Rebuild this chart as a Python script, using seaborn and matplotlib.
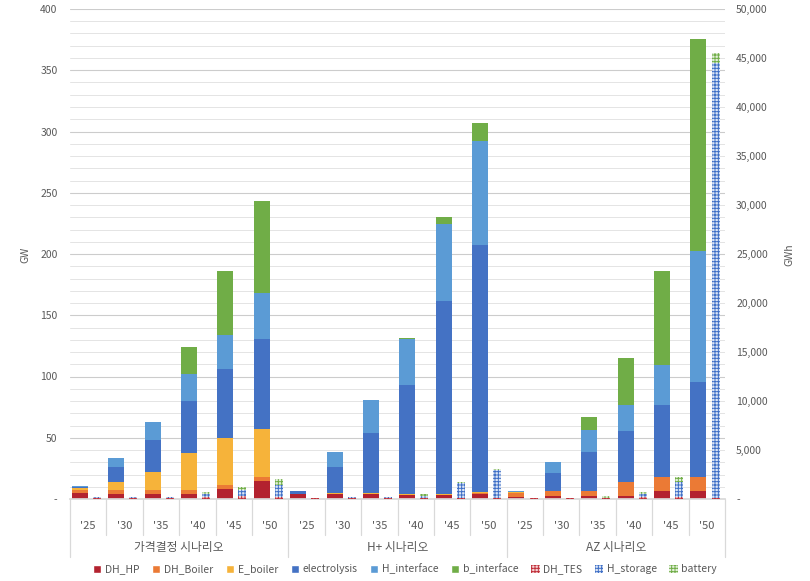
import matplotlib
matplotlib.use("Agg")
import matplotlib.pyplot as plt
from matplotlib.patches import Patch
from matplotlib.ticker import FuncFormatter, MultipleLocator
import numpy as np
import pandas as pd
import seaborn as sns

scenarios = ['가격결정 시나리오', 'H+ 시나리오', 'AZ 시나리오']
years = ["'25", "'30", "'35", "'40", "'45", "'50"]

# GW (left axis), 18 bars: 3 scenarios x 6 years
dh_hp = [4.5, 4.3, 4.3, 4.3, 8.2, 15.0,
         3.8, 4.0, 4.0, 3.3, 3.3, 4.3,
         1.4, 2.7, 2.7, 2.7, 6.8, 6.8]
dh_boiler = [2.8, 3.0, 3.0, 3.0, 3.2, 3.2,
             0.3, 0.3, 0.3, 0.3, 0.3, 0.8,
             3.7, 3.8, 3.8, 11.4, 11.2, 11.2]
e_boiler = [2.0, 6.6, 14.5, 30.5, 38.6, 38.9,
            0.2, 0.3, 0.3, 0.5, 0.5, 0.4,
            0.3, 0.0, 0.0, 0.0, 0.0, 0.0]
electrolysis = [0.5, 12.5, 26.4, 42.0, 56.0, 73.4,
                2.0, 21.8, 49.3, 89.0, 157.5, 201.6,
                0.3, 15.0, 32.1, 41.4, 58.7, 77.5]
h_interface = [0.8, 6.8, 14.7, 22.0, 28.0, 37.6,
               0.5, 12.0, 27.0, 37.7, 63.0, 85.0,
               0.5, 8.5, 17.7, 21.2, 32.7, 107.0]
b_interface = [0.0, 0.0, 0.0, 22.0, 52.0, 75.0,
               0.0, 0.0, 0.0, 0.6, 5.7, 15.0,
               0.0, 0.0, 10.7, 38.5, 76.8, 173.0]

# GWh (right axis)
dh_tes = [150, 100, 100, 240, 300, 240,
          100, 100, 60, 60, 130, 150,
          100, 60, 60, 170, 170, 150]
h_storage = [30, 100, 150, 270, 610, 1190,
             20, 80, 180, 280, 1470, 2850,
             20, 60, 80, 340, 1600, 44300]
battery = [0, 0, 0, 240, 340, 580,
           0, 0, 0, 140, 130, 30,
           0, 0, 200, 240, 480, 1100]

gw_series = [('DH_HP', dh_hp, '#B3222F'),
             ('DH_Boiler', dh_boiler, '#EB7A35'),
             ('E_boiler', e_boiler, '#F6B33A'),
             ('electrolysis', electrolysis, '#4472C4'),
             ('H_interface', h_interface, '#5B9BD5'),
             ('b_interface', b_interface, '#70AD47')]
gwh_series = [('DH_TES', dh_tes, '#C0303A', '#F6D3D5'),
              ('H_storage', h_storage, '#3F6FC6', '#DCE6F6'),
              ('battery', battery, '#70AD47', '#E3F0DA')]

sns.set_theme(style='white')
plt.rcParams['font.family'] = ['Noto Sans CJK KR', 'DejaVu Sans']
plt.rcParams['hatch.linewidth'] = 0.7
grey = '#595959'
line_grey = '#D9D9D9'
hatch = '+++++'

fig = plt.figure(figsize=(8.1, 5.81), dpi=100)
ax = fig.add_axes([70 / 810, 82 / 581, 655 / 810, 490 / 581])
ax2 = ax.twinx()

n = len(scenarios) * len(years)
idx = np.arange(n)
x_gw = idx - 0.23
x_gwh = idx + 0.24

# stacked bars: draw cumulative totals from the top layer down
gw_cum = np.cumsum([s[1] for s in gw_series], axis=0)
for i in reversed(range(len(gw_series))):
    df = pd.DataFrame({'x': x_gw, 'y': gw_cum[i]})
    sns.barplot(data=df, x='x', y='y', ax=ax, native_scale=True,
                width=0.44, color=gw_series[i][2], saturation=1,
                errorbar=None, linewidth=0)

gwh_cum = np.cumsum([s[1] for s in gwh_series], axis=0)
for i in reversed(range(len(gwh_series))):
    name, vals, hc, fc = gwh_series[i]
    df = pd.DataFrame({'x': x_gwh, 'y': gwh_cum[i]})
    sns.barplot(data=df, x='x', y='y', ax=ax2, native_scale=True,
                width=0.22, color=fc, saturation=1, errorbar=None,
                edgecolor=hc, hatch=hatch, linewidth=0)

# axes
ax.set_ylim(0, 400)
ax2.set_ylim(0, 50000)
ax.set_xlim(-0.5, n - 0.5)
ax.yaxis.set_major_locator(MultipleLocator(50))
ax.yaxis.set_minor_locator(MultipleLocator(10))
ax2.yaxis.set_major_locator(MultipleLocator(5000))
ax.yaxis.set_major_formatter(FuncFormatter(lambda v, p: '-' if v == 0 else f'{v:.0f}'))
ax2.yaxis.set_major_formatter(FuncFormatter(lambda v, p: '-' if v == 0 else f'{v:,.0f}'))
ax.grid(axis='y', which='major', color='#CCCCCC', linewidth=0.8)
ax.grid(axis='y', which='minor', color='#E4E4E4', linewidth=0.7)
ax.set_axisbelow(True)
ax2.grid(False)
ax.tick_params(axis='y', which='both', length=0, labelsize=7.5, colors=grey, pad=9)
ax2.tick_params(axis='y', length=0, labelsize=7.5, colors=grey, pad=8)
for a in (ax, ax2):
    for s in a.spines.values():
        s.set_visible(False)
    a.set_xlabel('')
    a.set_ylabel('')
ax.spines['bottom'].set_visible(True)
ax.spines['bottom'].set_color(line_grey)

ax.set_xticks(idx)
ax.set_xticklabels(years * len(scenarios))
ax.tick_params(axis='x', length=0, labelsize=8, colors=grey, pad=16)

# multi-level category separators and scenario labels
tr = ax.get_xaxis_transform()
for b in np.arange(-0.5, n, 1.0):
    end = -0.118 if (b + 0.5) % len(years) == 0 else -0.074
    ax.plot([b, b], [0, end], transform=tr, color=line_grey,
            linewidth=0.9, clip_on=False)
for k, name in enumerate(scenarios):
    ax.text(k * len(years) + 2.5, -0.1, name, transform=tr, ha='center',
            va='center', fontsize=8.5, color=grey)

fig.text(25 / 810, 1 - 255 / 581, 'GW', rotation=90, ha='center',
         va='center', fontsize=7.5, color=grey)
fig.text(789 / 810, 1 - 255 / 581, 'GWh', rotation=90, ha='center',
         va='center', fontsize=7.5, color=grey)

handles = [Patch(facecolor=c, label=nm) for nm, _, c in gw_series]
handles += [Patch(facecolor=fc, edgecolor=hc, hatch=hatch, linewidth=0, label=nm)
            for nm, _, hc, fc in gwh_series]
fig.legend(handles=handles, loc='center', bbox_to_anchor=(0.5, 0.021),
           ncol=9, frameon=False, fontsize=7.5, handlelength=0.8,
           handleheight=0.8, handletextpad=0.35, columnspacing=1.2,
           labelcolor=grey)

fig.savefig('out.png', dpi=100)
